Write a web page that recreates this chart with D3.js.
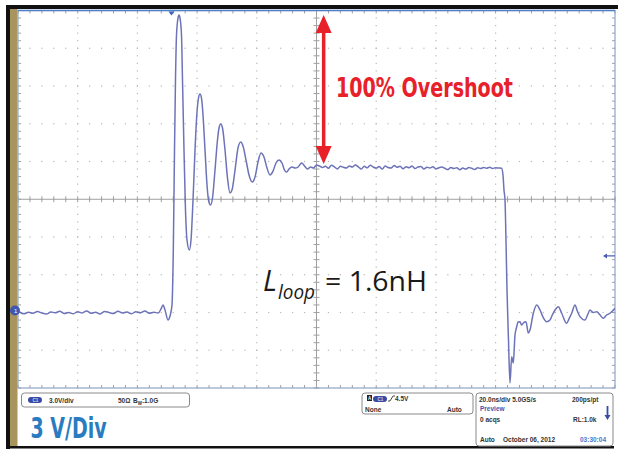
<!DOCTYPE html>
<html>
<head>
<meta charset="utf-8">
<script src="https://cdn.jsdelivr.net/npm/d3@7"></script>
<style>
body { margin: 0; background: #fff; }
svg { display: block; }
</style>
</head>
<body>
<div id="scope"></div>
<script>
// trace: [time ns (0 = screen centre), volts]
var baseline = [[-99.5,0.04],[-98,-0.10],[-96.5,0.02],[-95,-0.06],[-93.5,0.08],[-92,-0.04],[-90.5,-0.12],[-89,0.04],
	[-87.5,-0.02],[-86,0.10],[-84.5,-0.08],[-83,0.00],[-81.5,-0.10],[-80,0.06],[-78.5,-0.04],[-77,0.12],[-75.5,-0.06],
	[-74,0.02],[-72.5,-0.12],[-71,0.08],[-69.5,0.00],[-68,-0.08],[-66.5,0.10],[-65,-0.04],[-63.5,0.04],[-62,-0.10],
	[-60.5,0.06],[-59,-0.02],[-57.5,0.12],[-56,-0.06],[-54.5,0.02],[-53,-0.04]];
var ringing = [[-52.09,0.28],[-51.42,0.60],[-50.75,0.20],[-49.75,-0.60],[-49.08,-0.28],[-48.41,0.60],[-47.97,4.97],
	[-47.57,12.91],[-47.24,18.48],[-46.90,22.05],[-46.40,23.40],[-46.06,23.64],[-45.73,23.40],[-45.23,22.05],[-44.89,18.48],
	[-44.39,12.91],[-43.89,8.15],[-43.38,5.76],[-42.61,4.97],[-42.04,5.76],[-41.37,8.94],[-40.70,12.91],[-40.03,15.93],
	[-39.53,17.04],[-39.03,17.36],[-38.53,17.04],[-38.02,15.70],[-37.35,12.91],[-36.68,10.13],[-36.18,8.94],[-35.51,8.54],
	[-34.84,9.10],[-34.00,11.32],[-33.17,13.71],[-32.66,14.66],[-32.09,14.98],[-31.49,14.66],[-30.65,12.91],[-29.82,10.69],
	[-28.98,9.50],[-28.31,9.73],[-27.30,11.32],[-26.30,13.07],[-25.39,13.55],[-24.62,13.23],[-23.62,12.12],[-22.61,10.93],
	[-21.51,10.37],[-20.60,10.77],[-19.60,11.96],[-18.59,12.68],[-17.59,12.36],[-16.58,11.48],[-15.58,10.93],[-14.57,11.24],
	[-13.57,11.88],[-12.56,12.12],[-11.56,11.88],[-10.72,11.32],[-9.98,11.16],[-9.21,11.40],[-8.21,11.56],[-7.20,11.48],
	[-6.20,11.56],[-4.96,11.88]];
var plateau = [[-4,11.64],[-3,11.40],[-2,11.56],[-1,11.48],[0,11.72],[1,11.64],[2,11.52],[3,11.62],[4,11.46],[5,11.70],
	[6,11.58],[7,11.40],[8,11.62],[9,11.54],[10,11.48],[11,11.64],[12,11.56],[13,11.72],[14,11.58],[15,11.40],[16,11.62],
	[17,11.50],[18,11.70],[19,11.56],[20,11.48],[21,11.60],[22,11.40],[23,11.64],[24,11.52],[25,11.48],[26,11.68],[27,11.54],
	[28,11.62],[29,11.42],[30,11.58],[31,11.50],[32,11.64],[33,11.44],[34,11.56],[35,11.60],[36,11.40],[37,11.54],[38,11.48],
	[39,11.58],[40,11.42],[41,11.50],[42,11.56],[43,11.46],[44,11.36],[45,11.52],[46,11.44],[47,11.50],[48,11.34],[49,11.48],
	[50,11.40],[51,11.52],[52,11.46],[53,11.36],[54,11.50],[55,11.44],[56,11.52],[57,11.46],[58,11.54],[59,11.44],[60,11.50],
	[61,11.48],[62,11.46]];
var fallTail = [[62.48,10.93],[62.81,9.73],[63.15,8.94],[63.48,5.76],[63.82,1.79],[64.32,-2.19],[64.82,-5.60],[65.39,-3.51],
	[65.93,-4.01],[66.50,-1.79],[67.07,-1.13],[67.50,-0.75],[68.17,-0.73],[68.7,-1.0],[69.28,-0.83],[70.18,-0.73],[70.95,-1.63],
	[71.52,-1.39],[72.63,-0.06],[73.77,0.60],[74.87,0.20],[75.88,-0.36],[77.12,-0.73],[78.22,-0.60],[79.0,-0.2],[79.90,0.20],
	[81.01,0.46],[82.14,-0.06],[83.82,-0.86],[84.6,-0.5],[85.49,-0.06],[86.60,0.60],[87.4,0.1],[88.27,-0.33],[89.95,-0.60],
	[90.8,-0.2],[91.62,0.20],[92.7,0.0],[93.87,0.06],[95.0,-0.2],[96.08,-0.46],[97.2,-0.2],[98.32,-0.06],[100,0.33]];

var peakVolts = 23.64, plateauVolts = 11.8, arrowTime = 2.4;
var triggerTime = -48.6, triggerLevel = 4.5, groundLevel = 0;

var annotation = "100% Overshoot";
var scaleLabel = "3 V/Div";
var chanInfo = ["3.0V/div", "50\u03A9"];
var timeInfo = ["20.0ns/div 5.0GS/s", "200ps/pt", "Preview", "0 acqs", "RL:1.0k", "Auto", "October 06, 2012", "03:30:04"];

var width = 618, height = 449;
var svg = d3.select("#scope").append("svg").attr("width", width).attr("height", height);
svg.append("rect").attr("width", width).attr("height", height).attr("fill", "#fff");

var x = d3.scaleLinear().domain([-100, 100]).range([18, 615]);
var y = d3.scaleLinear().domain([-6, 24]).range([388, 10.5]);

var tMajor = d3.range(0, 11).map(function (i) { return -100 + 20 * i; });
var tMinor = d3.range(0, 51).map(function (i) { return -100 + 4 * i; });
var vMajor = d3.range(0, 11).map(function (i) { return -6 + 3 * i; });
var vMinor = d3.range(0, 51).map(function (i) { return -6 + 0.6 * i; });

// frame: black edge + gold strip
svg.append("rect").attr("x", 6).attr("y", 5).attr("width", 612).attr("height", 4).attr("fill", "#111");
svg.append("rect").attr("x", 6).attr("y", 5).attr("width", 4).attr("height", 444).attr("fill", "#111");
svg.append("rect").attr("x", 6).attr("y", 446).attr("width", 608).attr("height", 2.5).attr("fill", "#111");
svg.append("rect").attr("x", 10).attr("y", 9).attr("width", 7.5).attr("height", 437).attr("fill", "#a8945c");

// dotted graticule
var dots = svg.append("g").attr("fill", "#b8b8b8");
tMajor.slice(1, -1).forEach(function (t) {
	vMinor.forEach(function (v) {
		dots.append("rect").attr("x", x(t) - 0.6).attr("y", y(v) - 0.6).attr("width", 1.2).attr("height", 1.2);
	});
});
vMajor.slice(1, -1).forEach(function (v) {
	tMinor.forEach(function (t) {
		dots.append("rect").attr("x", x(t) - 0.6).attr("y", y(v) - 0.6).attr("width", 1.2).attr("height", 1.2);
	});
});

// centre crosshair with minor ticks
var cross = svg.append("g").attr("stroke", "#a0a0a0").attr("stroke-width", 1);
cross.append("line").attr("x1", x(0)).attr("x2", x(0)).attr("y1", y(24)).attr("y2", y(-6));
cross.append("line").attr("x1", x(-100)).attr("x2", x(100)).attr("y1", y(9)).attr("y2", y(9));
vMinor.forEach(function (v) {
	cross.append("line").attr("x1", x(0) - 3).attr("x2", x(0) + 3).attr("y1", y(v)).attr("y2", y(v));
	cross.append("line").attr("x1", x(-100)).attr("x2", x(-100) + 3).attr("y1", y(v)).attr("y2", y(v));
	cross.append("line").attr("x1", x(100) - 3).attr("x2", x(100)).attr("y1", y(v)).attr("y2", y(v));
});
tMinor.forEach(function (t) {
	cross.append("line").attr("x1", x(t)).attr("x2", x(t)).attr("y1", y(9) - 3).attr("y2", y(9) + 3);
	cross.append("line").attr("x1", x(t)).attr("x2", x(t)).attr("y1", y(24)).attr("y2", y(24) + 3);
	cross.append("line").attr("x1", x(t)).attr("x2", x(t)).attr("y1", y(-6) - 3).attr("y2", y(-6));
});

// plot border
svg.append("rect").attr("x", x(-100)).attr("y", y(24)).attr("width", x(100) - x(-100)).attr("height", y(-6) - y(24))
	.attr("fill", "none").attr("stroke", "#8ea4c8").attr("stroke-width", 1.2);
svg.append("line").attr("x1", x(-100)).attr("x2", x(100)).attr("y1", y(24)).attr("y2", y(24))
	.attr("stroke", "#4f80c6").attr("stroke-width", 1.5);

// the trace
svg.append("clipPath").attr("id", "clip").append("rect")
	.attr("x", x(-100)).attr("y", y(24) - 2).attr("width", x(100) - x(-100)).attr("height", y(-6) - y(24) + 2);
var trace = baseline.concat(ringing, plateau, fallTail);
var line = d3.line().x(function (d) { return x(d[0]); }).y(function (d) { return y(d[1]); }).curve(d3.curveMonotoneX);
svg.append("path").datum(trace).attr("d", line).attr("clip-path", "url(#clip)")
	.attr("fill", "none").attr("stroke", "#6d73b8").attr("stroke-width", 1.5).attr("stroke-linejoin", "round");

// markers: trigger position, trigger level, ground
svg.append("path").attr("d", "M" + (x(triggerTime) - 3) + "," + (y(24) + 1) + "h6l-3,4z").attr("fill", "#3c63b4");
svg.append("path").attr("d", "M" + (x(100) - 12) + "," + y(triggerLevel) + "l4,-2.5v5z").attr("fill", "#4a5ab0");
svg.append("line").attr("x1", x(100) - 9).attr("x2", x(100)).attr("y1", y(triggerLevel)).attr("y2", y(triggerLevel))
	.attr("stroke", "#4a5ab0").attr("stroke-width", 1.2);
svg.append("circle").attr("cx", 15).attr("cy", y(groundLevel) - 2).attr("r", 5).attr("fill", "#3e58b2");
svg.append("text").attr("x", 14).attr("y", y(groundLevel) + 0.5).attr("font-family", "Liberation Sans").attr("font-size", 6)
	.attr("fill", "#fff").text("1");

// overshoot arrow
var arrowX = x(arrowTime), arrowTop = y(peakVolts), arrowBot = y(plateauVolts);
svg.append("line").attr("x1", arrowX).attr("x2", arrowX).attr("y1", arrowTop + 12).attr("y2", arrowBot - 12)
	.attr("stroke", "#e8202a").attr("stroke-width", 3.5);
svg.append("path").attr("d", "M" + arrowX + "," + arrowTop + "l8,18h-16z").attr("fill", "#e8202a");
svg.append("path").attr("d", "M" + arrowX + "," + arrowBot + "l8,-18h-16z").attr("fill", "#e8202a");
svg.append("text").attr("x", 336).attr("y", 97).attr("font-family", "Liberation Sans Narrow, DejaVu Sans Condensed, sans-serif")
	.attr("font-weight", "bold").attr("font-size", 27).attr("fill", "#e8202a")
	.attr("textLength", 177).attr("lengthAdjust", "spacingAndGlyphs").text(annotation);

// L_loop label
var lab = svg.append("g").attr("font-family", "Open Sans, sans-serif").attr("fill", "#1a1a1a");
lab.append("text").attr("x", 263).attr("y", 291).attr("font-size", 29).attr("font-style", "italic").text("L");
lab.append("text").attr("x", 278).attr("y", 299).attr("font-size", 20).attr("font-style", "italic")
	.attr("textLength", 37).attr("lengthAdjust", "spacingAndGlyphs").text("loop");
lab.append("text").attr("x", 325).attr("y", 291).attr("font-size", 27)
	.attr("textLength", 102).attr("lengthAdjust", "spacingAndGlyphs").text("= 1.6nH");

// readout boxes
var info = svg.append("g").attr("font-family", "Liberation Sans, sans-serif").attr("font-weight", "bold")
	.attr("font-size", 6.5).attr("fill", "#333");
function box(x0, y0, w, h) {
	info.append("rect").attr("x", x0).attr("y", y0).attr("width", w).attr("height", h).attr("rx", 3)
		.attr("fill", "#fff").attr("stroke", "#8a8a8a").attr("stroke-width", 1);
}
function pill(x0, y0) {
	info.append("rect").attr("x", x0).attr("y", y0).attr("width", 14).attr("height", 6).attr("rx", 3).attr("fill", "#3a4aa3");
	info.append("text").attr("x", x0 + 4.5).attr("y", y0 + 5).attr("font-size", 4.5).attr("fill", "#cfd6f5").text("C1");
}
box(21.5, 393, 168, 14);
pill(28, 397);
info.append("text").attr("x", 49).attr("y", 403).text(chanInfo[0]);
info.append("text").attr("x", 118).attr("y", 403).text(chanInfo[1]);
var bw = info.append("text").attr("x", 133).attr("y", 403);
bw.append("tspan").text("B");
bw.append("tspan").attr("font-size", 4.5).attr("dy", 2).text("W");
bw.append("tspan").attr("dy", -2).text(":1.0G");

box(362, 393, 111, 21);
info.append("rect").attr("x", 367).attr("y", 395).attr("width", 5).attr("height", 6).attr("fill", "#222");
info.append("text").attr("x", 368).attr("y", 400).attr("font-size", 4.5).attr("fill", "#fff").text("A");
pill(373, 396);
info.append("path").attr("d", "M388,401h2l3,-5h2").attr("fill", "none").attr("stroke", "#333").attr("stroke-width", 0.9);
info.append("text").attr("x", 395).attr("y", 401).text("4.5V");
info.append("text").attr("x", 365).attr("y", 411.5).text("None");
info.append("text").attr("x", 447).attr("y", 411.5).text("Auto");

box(476, 393, 137, 53);
info.append("text").attr("x", 479).attr("y", 401.5).text(timeInfo[0]);
info.append("text").attr("x", 572).attr("y", 401.5).text(timeInfo[1]);
info.append("text").attr("x", 480).attr("y", 411).attr("fill", "#4a55aa").text(timeInfo[2]);
info.append("text").attr("x", 480).attr("y", 421.5).text(timeInfo[3]);
info.append("text").attr("x", 573).attr("y", 421.5).text(timeInfo[4]);
info.append("text").attr("x", 480).attr("y", 441.5).text(timeInfo[5]);
info.append("text").attr("x", 503).attr("y", 441.5).text(timeInfo[6]);
info.append("text").attr("x", 580).attr("y", 441.5).attr("fill", "#4a78c8").text(timeInfo[7]);
info.append("line").attr("x1", 607.5).attr("x2", 607.5).attr("y1", 406).attr("y2", 416).attr("stroke", "#3a4aa3").attr("stroke-width", 1.8);
info.append("path").attr("d", "M604.5,415h6l-3,5z").attr("fill", "#3a4aa3");

svg.append("text").attr("x", 30.5).attr("y", 437.5).attr("font-family", "Liberation Sans Narrow, DejaVu Sans Condensed, sans-serif")
	.attr("font-weight", "bold").attr("font-size", 28).attr("fill", "#2a7cc0")
	.attr("textLength", 76).attr("lengthAdjust", "spacingAndGlyphs").text(scaleLabel);
</script>
</body>
</html>
